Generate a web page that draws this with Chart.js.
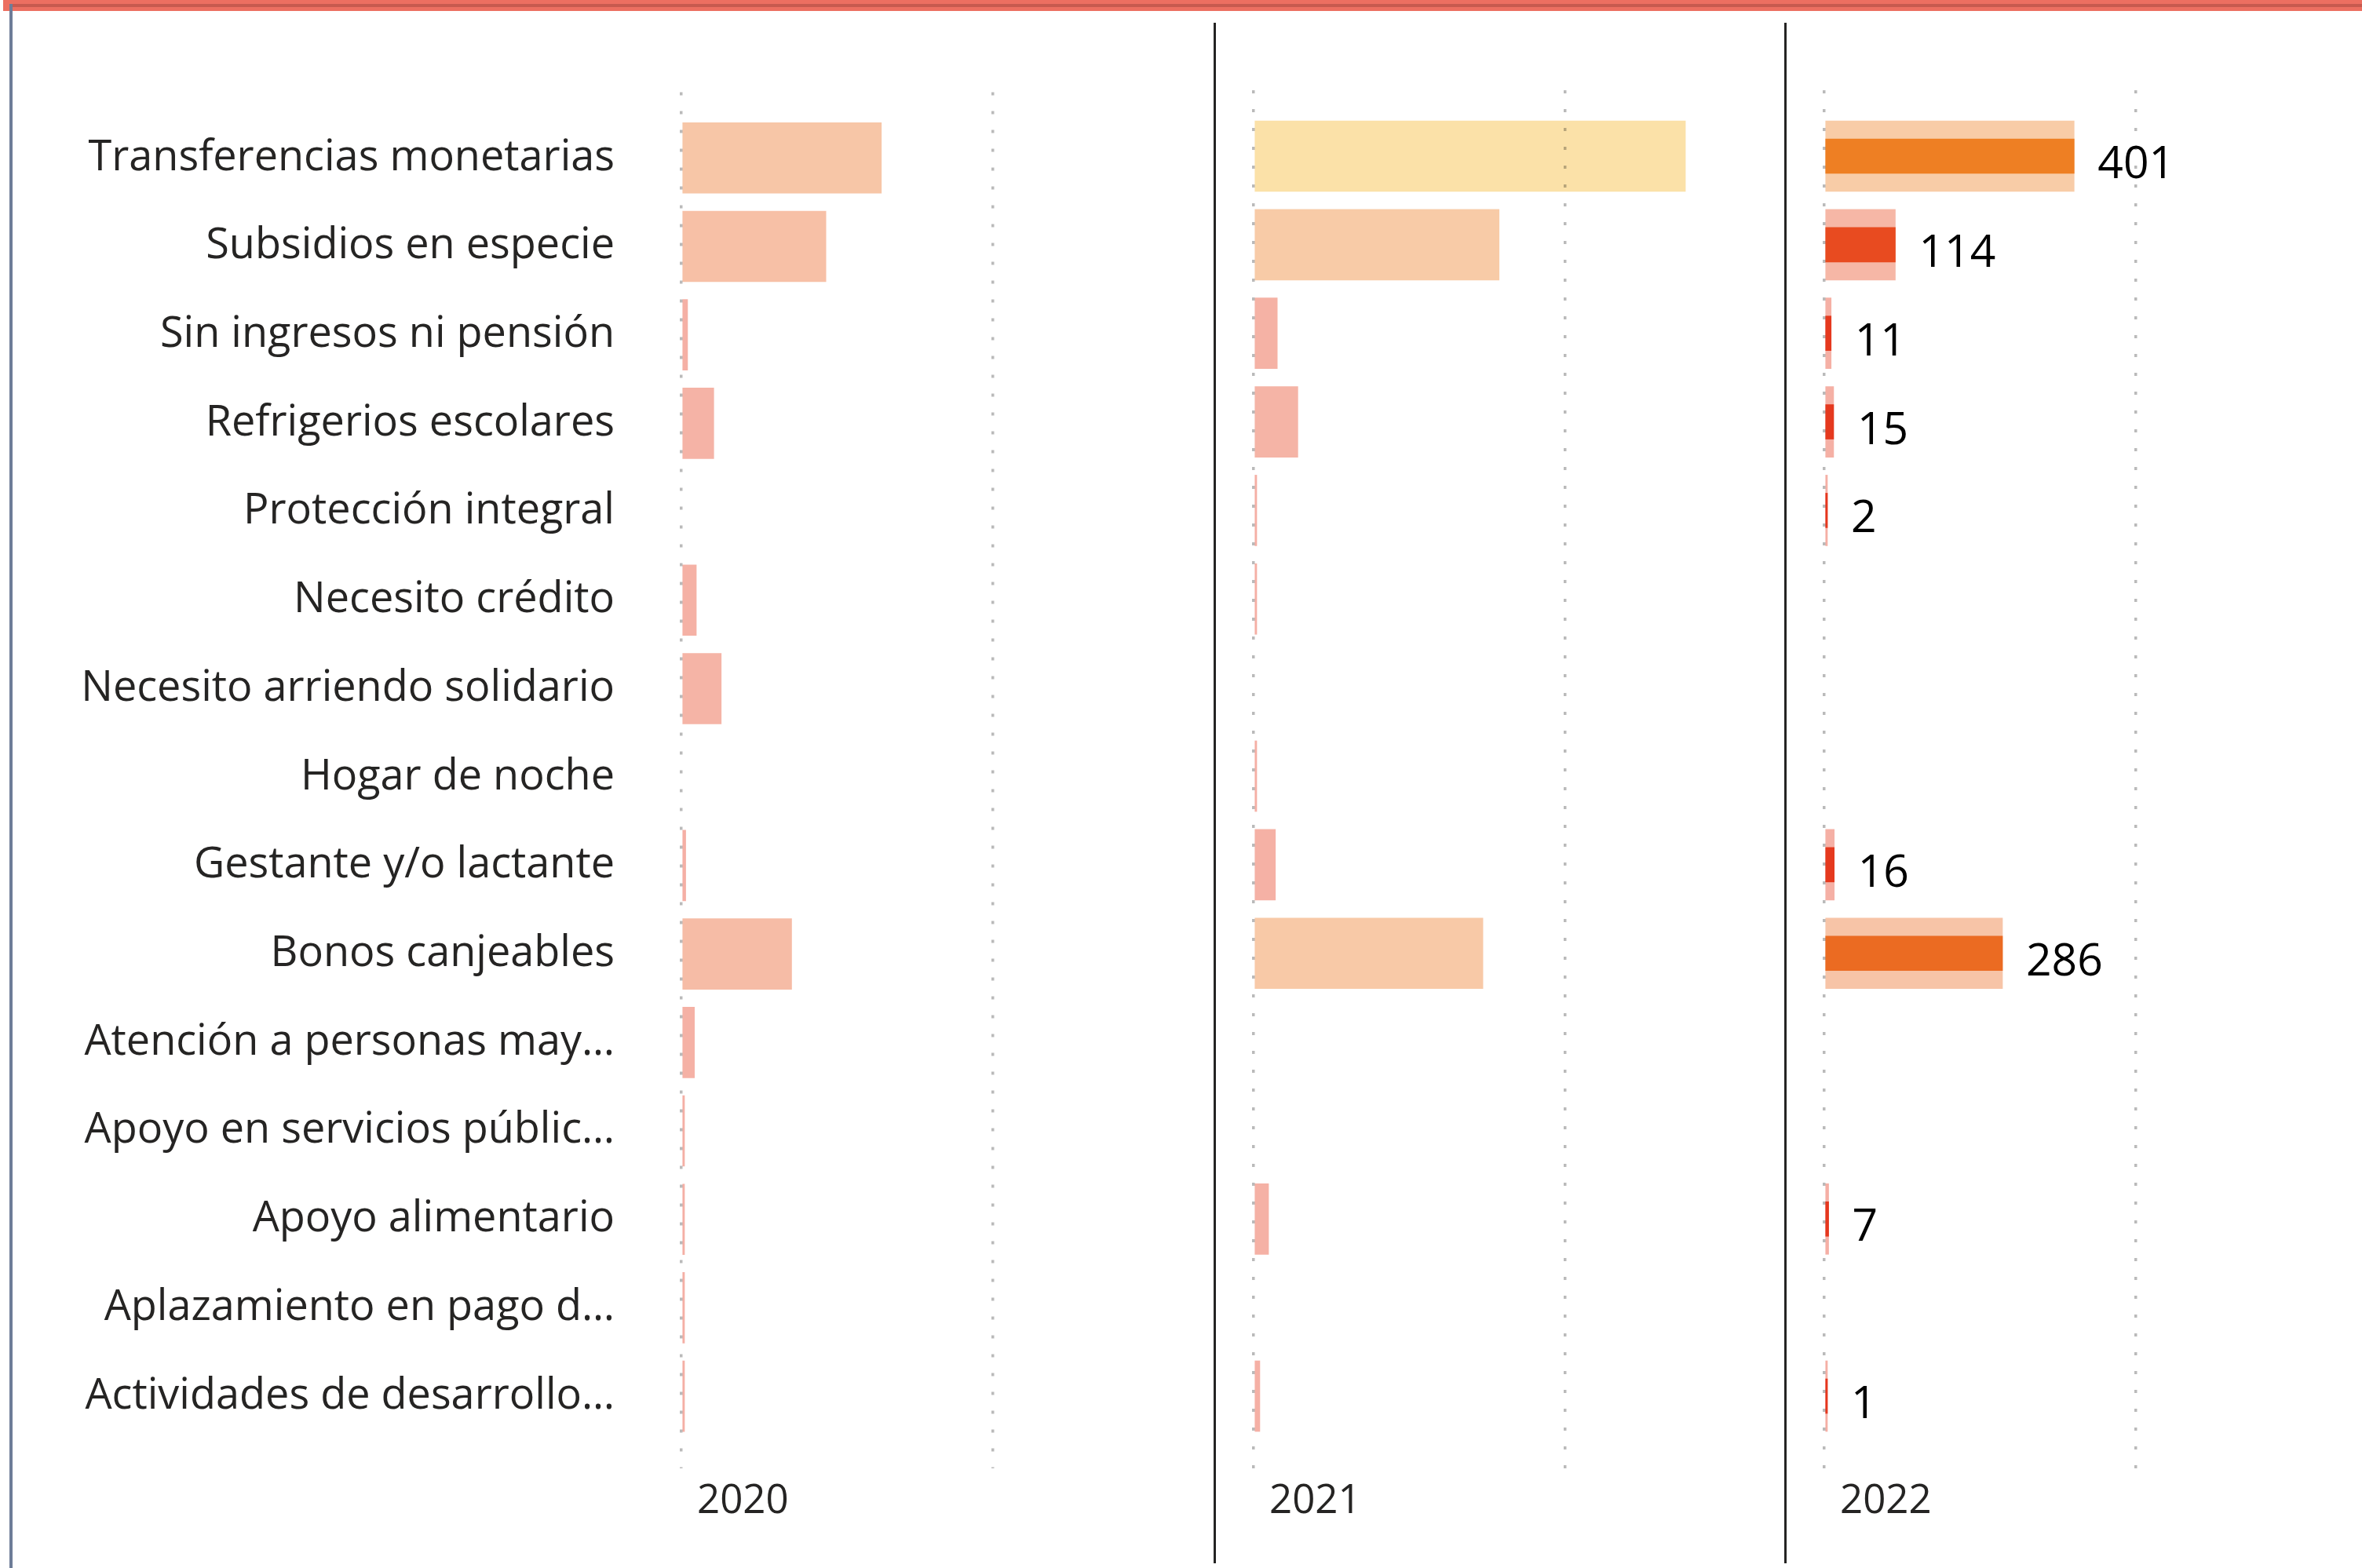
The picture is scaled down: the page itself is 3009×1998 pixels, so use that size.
<!DOCTYPE html>
<html>
<head>
<meta charset="utf-8">
<script src="https://cdn.jsdelivr.net/npm/chart.js@4.4.1/dist/chart.umd.min.js"></script>
<style>
  html, body { margin: 0; padding: 0; background: #fff; }
  #page { position: relative; width: 3009px; height: 1998px; overflow: hidden; background: #fff; }
  canvas { position: absolute; top: 0; }
  .deco { position: absolute; }
</style>
</head>
<body>
<div id="page">
  <div class="deco" style="left:4px;top:0;width:3005px;height:14px;background:#ec6f61"></div>
  <div class="deco" style="left:12px;top:5px;width:2997px;height:4px;background:#c65a4f"></div>
  <div class="deco" style="left:12px;top:5px;width:4px;height:1993px;background:#6e7d98"></div>
  <div class="deco" style="left:1546px;top:29px;width:3px;height:1963px;background:#252423"></div>
  <div class="deco" style="left:2273px;top:29px;width:3px;height:1963px;background:#252423"></div>
  <canvas id="c2020" width="1503" height="1998" style="left:0"></canvas>
  <canvas id="c2021" width="645" height="1998" style="left:1587px"></canvas>
  <canvas id="c2022" width="695" height="1998" style="left:2314px"></canvas>
</div>
<script>
const categories = [
  'Transferencias monetarias',
  'Subsidios en especie',
  'Sin ingresos ni pensión',
  'Refrigerios escolares',
  'Protección integral',
  'Necesito crédito',
  'Necesito arriendo solidario',
  'Hogar de noche',
  'Gestante y/o lactante',
  'Bonos canjeables',
  'Atención a personas may…',
  'Apoyo en servicios públic…',
  'Apoyo alimentario',
  'Aplazamiento en pago d…',
  'Actividades de desarrollo…'
];
const years = ['2020', '2021', '2022'];
// null = no bar for that year
const values2020 = [321, 232, 10, 52, null, 24, 64, null, 7, 177, 21, 3, 3, 3, 3];
const values2021 = [693, 394, 38, 71, 2, 2, null, 2, 35, 368, null, null, 24, null, 10];
const values2022 = [401, 114, 11, 15, 2, null, null, null, 16, 286, null, null, 7, null, 1];
const gridValues = [0, 500];

Chart.defaults.font.family = '"Open Sans", sans-serif';
Chart.defaults.animation = false;

// colour scale: low values red, high values amber (conditional formatting)
const LOW = [229, 55, 31];
const HIGH = [245, 180, 38];
const maxValue = Math.max(...values2020, ...values2021, ...values2022);

function barColor(v, alpha) {
  const t = Math.max(0, Math.min(1, v / maxValue));
  const c = LOW.map((lo, i) => Math.round(lo + (HIGH[i] - lo) * t));
  return `rgba(${c[0]}, ${c[1]}, ${c[2]}, ${alpha})`;
}

const toPoints = vals => vals.map((v, i) => ({ x: v, y: i }));

function bars(vals, alpha, thickness) {
  return {
    data: toPoints(vals),
    backgroundColor: ctx => (ctx.raw && ctx.raw.x != null ? barColor(ctx.raw.x, alpha) : 'transparent'),
    barThickness: thickness,
    minBarLength: 4,
    grouped: false,
  };
}

function yearLabel(year) {
  return {
    id: 'yearLabel',
    afterDraw(chart) {
      const { ctx, chartArea } = chart;
      ctx.save();
      ctx.font = '51px "Open Sans"';
      ctx.fillStyle = '#252423';
      ctx.textBaseline = 'alphabetic';
      ctx.textAlign = 'left';
      ctx.fillText(year, chartArea.left + 20, chartArea.bottom + 57);
      ctx.restore();
    }
  };
}

const valueLabels = {
  id: 'valueLabels',
  afterDatasetsDraw(chart) {
    const { ctx } = chart;
    const meta = chart.getDatasetMeta(1);
    ctx.save();
    ctx.font = '57px "Open Sans"';
    ctx.fillStyle = '#000';
    ctx.textBaseline = 'alphabetic';
    ctx.textAlign = 'left';
    meta.data.forEach((bar, i) => {
      const v = values2022[i];
      if (v == null) return;
      ctx.fillText(String(v), bar.x + 30, bar.y + 28);
    });
    ctx.restore();
  }
};

function makeChart(id, year, datasets, showLabels, padLeft, padRight, extraPlugins) {
  return new Chart(document.getElementById(id), {
    type: 'bar',
    data: { datasets },
    options: {
      indexAxis: 'y',
      responsive: false,
      layout: { padding: { top: 115, bottom: 0, left: padLeft, right: padRight } },
      plugins: { legend: { display: false }, tooltip: { enabled: false } },
      scales: {
        y: {
          type: 'linear',
          reverse: true,
          offset: false,
          min: -0.744,
          max: 14.815,
          display: showLabels,
          afterBuildTicks: s => { s.ticks = categories.map((_, i) => ({ value: i })); },
          afterFit: s => { if (showLabels) s.width = 868; },
          grid: { display: false, drawTicks: false, offset: false },
          border: { display: false },
          ticks: {
            autoSkip: false,
            padding: 85,
            color: '#252423',
            font: { size: 54 },
            callback: (v, i) => categories[i],
          },
        },
        x: {
          type: 'linear',
          min: 0,
          max: 800,
          afterBuildTicks: s => { s.ticks = gridValues.map(v => ({ value: v })); },
          afterFit: s => { s.height = 127; },
          ticks: { display: false },
          grid: { color: 'rgba(0, 0, 0, 0.27)', lineWidth: 3.5, drawTicks: false, z: 1 },
          border: { display: false, dash: [4, 20] },
        },
      },
    },
    plugins: [yearLabel(year)].concat(extraPlugins || []),
  });
}

makeChart('c2020', years[0], [bars(values2020, 0.4, 90)], true, 0, 0);
makeChart('c2021', years[1], [bars(values2021, 0.4, 90)], false, 10, 0);
makeChart('c2022', years[2], [bars(values2022, 0.4, 90), bars(values2022, 1, 44)], false, 10, 50, [valueLabels]);
</script>
</body>
</html>
